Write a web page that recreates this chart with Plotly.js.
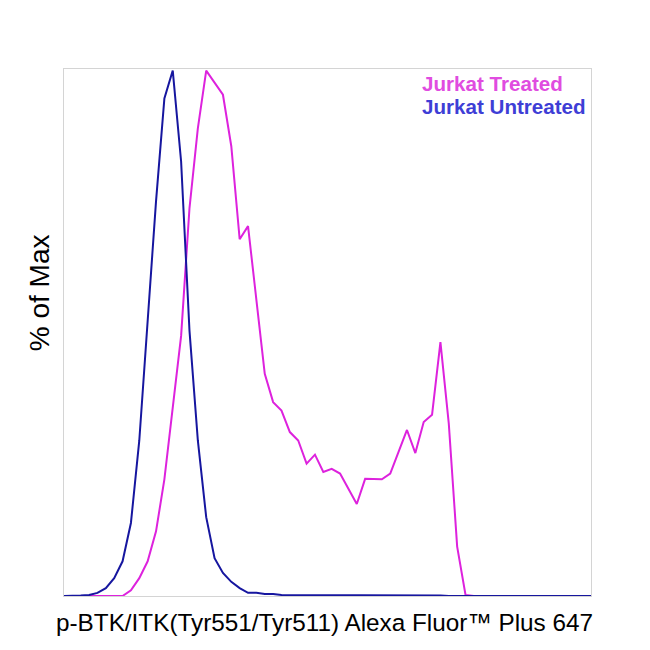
<!DOCTYPE html>
<html>
<head>
<meta charset="utf-8">
<script src="https://cdn.plot.ly/plotly-3.0.1.min.js"></script>
<style>
  html, body { margin: 0; padding: 0; background: #fff; }
  #chart { width: 650px; height: 650px; }
</style>
</head>
<body>
<div id="chart"></div>
<script>
// channel bins (x) and % of max for each sample
const bins = Array.from({length: 64}, (_, i) => i);

const untreated = [
    0, 0, 0.1, 0.2, 0.6, 1.5, 3.4, 6.6, 13.9, 29.6,
    53.3, 75.1, 94.7, 100, 82.7, 50.5, 29.6, 15.0, 7.2, 4.4,
    2.7, 1.5, 0.6, 0.6, 0.4, 0.4, 0.2, 0.2, 0.2, 0.1,
    0.2, 0.1, 0.1, 0.2, 0.1, 0.1, 0.1, 0.2, 0.1, 0.1,
    0.1, 0.1, 0.2, 0.1, 0.2, 0.1, 0, 0, 0, 0,
    0, 0, 0, 0, 0, 0, 0, 0, 0, 0,
    0, 0, 0, 0
];

const treated = [
    0, 0, 0, 0, 0, 0, 0, 0, 1.1, 3.4,
    6.6, 12.3, 22.2, 35.3, 49.5, 73.8, 89.0, 100, 97.7, 95.4,
    85.6, 67.9, 70.4, 56.2, 42.3, 36.9, 35.3, 31.2, 29.6, 25.2,
    26.9, 23.6, 24.2, 23.3, 20.4, 17.5, 22.3, 22.2, 22.2, 23.3,
    27.4, 31.6, 27.2, 33.1, 34.5, 48.3, 32.8, 9.4, 0.2, 0,
    0, 0, 0, 0, 0, 0, 0, 0, 0, 0,
    0, 0, 0, 0
];

const seriesNames = ['Jurkat Treated', 'Jurkat Untreated'];
const xTitle = 'p-BTK/ITK(Tyr551/Tyr511) Alexa Fluor™ Plus 647';
const yTitle = '% of Max';

let data = [
    {
        type: 'scatter',
        mode: 'lines',
        x: bins,
        y: treated,
        name: seriesNames[0],
        line: {color: '#dd22dd', width: 2}
    },
    {
        type: 'scatter',
        mode: 'lines',
        x: bins,
        y: untreated,
        name: seriesNames[1],
        line: {color: '#16169f', width: 2}
    }
];

let font = 'Liberation Sans, Arial, sans-serif';

let layout = {
    width: 650,
    height: 650,
    margin: {l: 64, r: 59, t: 69, b: 54},
    paper_bgcolor: '#ffffff',
    plot_bgcolor: '#ffffff',
    showlegend: false,
    font: {family: font, color: '#000'},
    xaxis: {
        range: [0, 63],
        showticklabels: false,
        ticks: '',
        showgrid: false,
        zeroline: false,
        showline: true,
        mirror: true,
        linecolor: '#d4d4d4',
        linewidth: 1
    },
    yaxis: {
        range: [0, 100.3],
        showticklabels: false,
        ticks: '',
        showgrid: false,
        zeroline: false,
        showline: true,
        mirror: true,
        linecolor: '#d4d4d4',
        linewidth: 1
    },
    annotations: [
        // legend texts
        {
            xref: 'paper', yref: 'paper',
            x: 0.676, y: 0.972, xanchor: 'left', yanchor: 'middle',
            text: '<b>' + seriesNames[0] + '</b>',
            showarrow: false,
            font: {family: font, size: 20.6, color: '#e04ce0'}
        },
        {
            xref: 'paper', yref: 'paper',
            x: 0.676, y: 0.928, xanchor: 'left', yanchor: 'middle',
            text: '<b>' + seriesNames[1] + '</b>',
            showarrow: false,
            font: {family: font, size: 20.6, color: '#3e3ed6'}
        },
        // axis titles
        {
            xref: 'paper', yref: 'paper',
            x: 0.495, y: -0.05, xanchor: 'center', yanchor: 'middle',
            text: xTitle,
            showarrow: false,
            font: {family: font, size: 24.3, color: '#000'}
        },
        {
            xref: 'paper', yref: 'paper',
            x: -0.046, y: 0.576, xanchor: 'center', yanchor: 'middle',
            text: yTitle,
            textangle: -90,
            showarrow: false,
            font: {family: font, size: 28, color: '#000'}
        }
    ]
};

Plotly.newPlot('chart', data, layout, {staticPlot: true});
</script>
</body>
</html>
